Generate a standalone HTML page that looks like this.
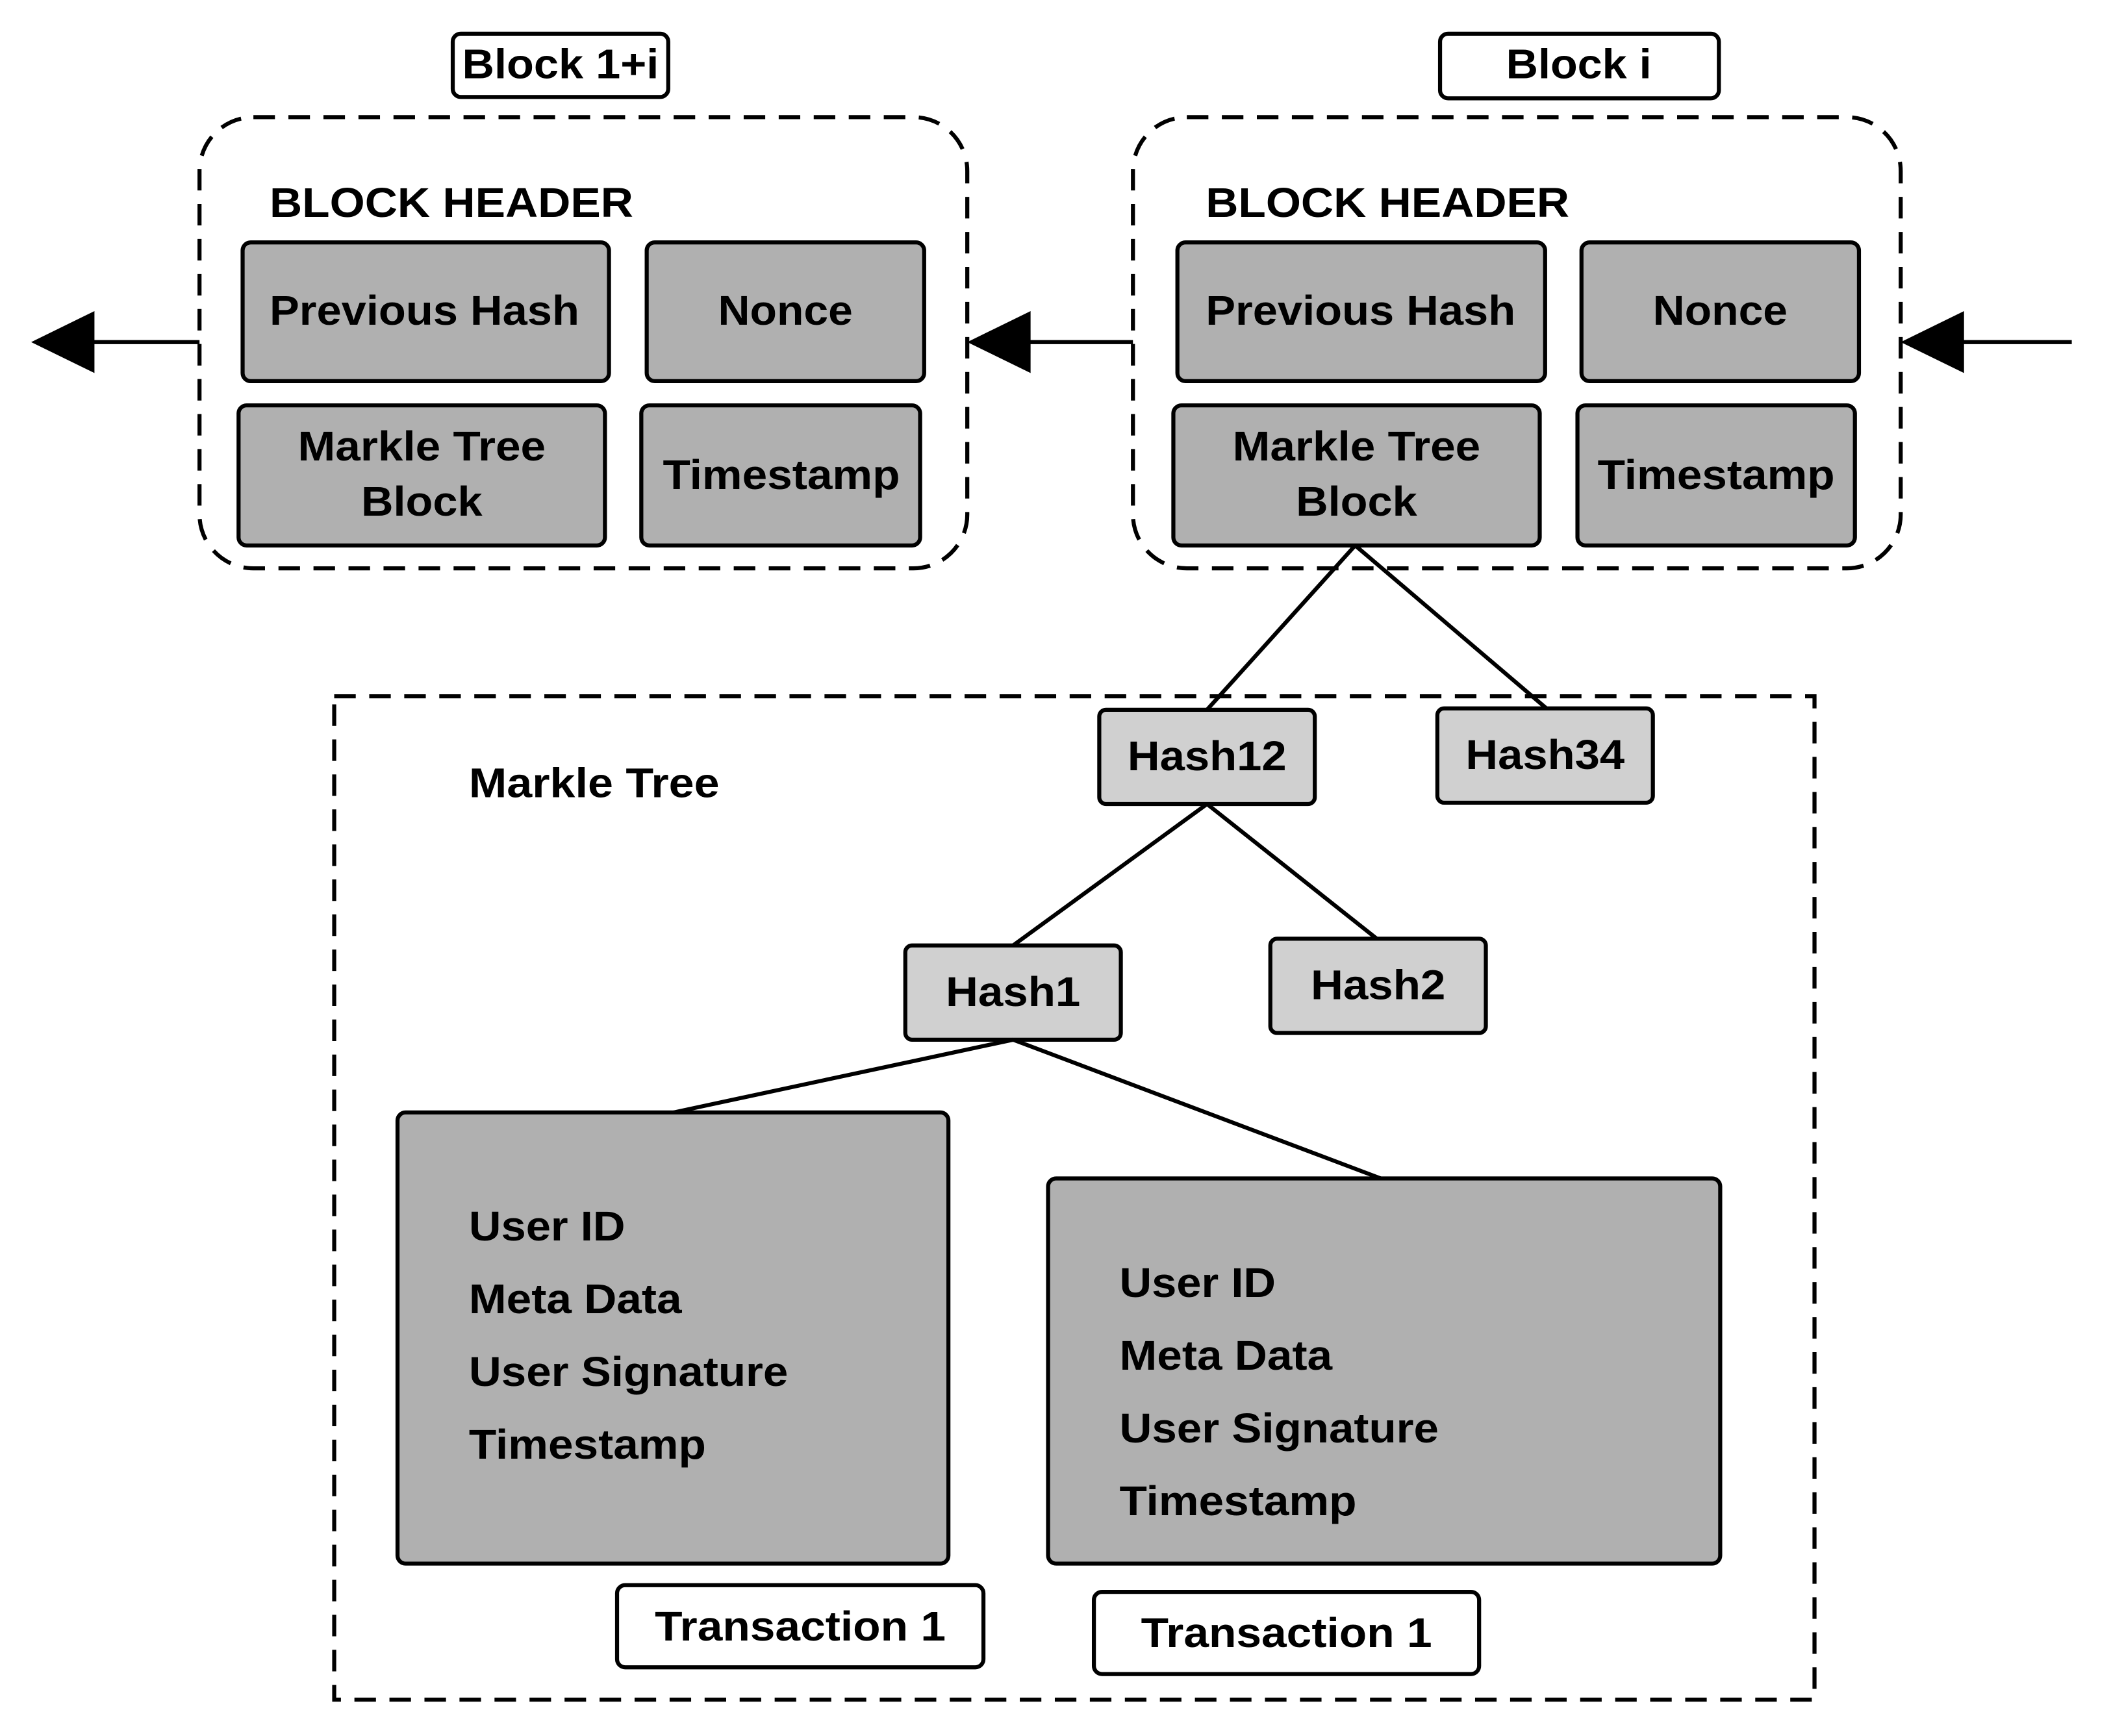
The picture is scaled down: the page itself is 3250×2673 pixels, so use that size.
<!DOCTYPE html>
<html><head><meta charset="utf-8"><style>html,body{margin:0;padding:0;background:#fff}svg{display:block}</style></head>
<body>
<svg width="3250" height="2673" viewBox="0 0 1567 1289" xmlns="http://www.w3.org/2000/svg" font-family="Liberation Sans, Arial, sans-serif" font-weight="bold">
<rect width="1567" height="1289" fill="#fff"/>
<g stroke="#000" stroke-width="3" fill="none" stroke-dasharray="16,10">
<rect x="148" y="87" width="570" height="335" rx="40"/>
<rect x="841" y="87" width="570" height="335" rx="40"/>
<rect x="248" y="517" width="1099" height="745"/>
</g>
<g fill="#fff" stroke="#000" stroke-width="3">
<rect x="336" y="25" width="160" height="47" rx="6"/>
<rect x="1069" y="25" width="207" height="48" rx="6"/>
<rect x="458" y="1177" width="272" height="61" rx="6"/>
<rect x="812" y="1182" width="286" height="61" rx="6"/>
</g>
<g fill="#b0b0b0" stroke="#000" stroke-width="3">
<rect x="180" y="180" width="272" height="103" rx="6"/>
<rect x="480" y="180" width="206" height="103" rx="6"/>
<rect x="177" y="301" width="272" height="104" rx="6"/>
<rect x="476" y="301" width="207" height="104" rx="6"/>
<rect x="874" y="180" width="273" height="103" rx="6"/>
<rect x="1174" y="180" width="206" height="103" rx="6"/>
<rect x="871" y="301" width="272" height="104" rx="6"/>
<rect x="1171" y="301" width="206" height="104" rx="6"/>
<rect x="295" y="826" width="409" height="335" rx="6"/>
<rect x="778" y="875" width="499" height="286" rx="6"/>
</g>
<g fill="#d0d0d0" stroke="#000" stroke-width="3">
<rect x="816" y="527" width="160" height="70" rx="5"/>
<rect x="1067" y="526" width="160" height="70" rx="5"/>
<rect x="672" y="702" width="160" height="70" rx="5"/>
<rect x="943" y="697" width="160" height="70" rx="5"/>
</g>
<g stroke="#000" stroke-width="3">
<line x1="1006" y1="405" x2="896" y2="527"/>
<line x1="1006" y1="405" x2="1148" y2="526"/>
<line x1="896" y1="597" x2="752" y2="702"/>
<line x1="896" y1="597" x2="1022" y2="697"/>
<line x1="752" y1="772" x2="500" y2="826"/>
<line x1="752" y1="772" x2="1025" y2="875"/>
<line x1="148" y1="254" x2="68" y2="254"/>
<line x1="841" y1="254" x2="762" y2="254"/>
<line x1="1538" y1="254" x2="1455" y2="254"/>
</g>
<g fill="#000">
<polygon points="23,254 70,231 70,277"/>
<polygon points="718,254 765,231 765,277"/>
<polygon points="1411,254 1458,231 1458,277"/>
</g>
<g fill="#000" font-size="31" text-anchor="middle">
<text x="416" y="58" textLength="146" lengthAdjust="spacingAndGlyphs">Block 1+i</text>
<text x="1172" y="58" textLength="108" lengthAdjust="spacingAndGlyphs">Block i</text>
<text x="315" y="241" textLength="230" lengthAdjust="spacingAndGlyphs">Previous Hash</text>
<text x="583" y="241" textLength="100" lengthAdjust="spacingAndGlyphs">Nonce</text>
<text x="313" y="342" textLength="184" lengthAdjust="spacingAndGlyphs">Markle Tree</text>
<text x="313" y="383" textLength="90" lengthAdjust="spacingAndGlyphs">Block</text>
<text x="580" y="363" textLength="176" lengthAdjust="spacingAndGlyphs">Timestamp</text>
<text x="1010" y="241" textLength="230" lengthAdjust="spacingAndGlyphs">Previous Hash</text>
<text x="1277" y="241" textLength="100" lengthAdjust="spacingAndGlyphs">Nonce</text>
<text x="1007" y="342" textLength="184" lengthAdjust="spacingAndGlyphs">Markle Tree</text>
<text x="1007" y="383" textLength="90" lengthAdjust="spacingAndGlyphs">Block</text>
<text x="1274" y="363" textLength="176" lengthAdjust="spacingAndGlyphs">Timestamp</text>
<text x="896" y="572" textLength="118" lengthAdjust="spacingAndGlyphs">Hash12</text>
<text x="1147" y="571" textLength="118" lengthAdjust="spacingAndGlyphs">Hash34</text>
<text x="752" y="747" textLength="100" lengthAdjust="spacingAndGlyphs">Hash1</text>
<text x="1023" y="742" textLength="100" lengthAdjust="spacingAndGlyphs">Hash2</text>
<text x="594" y="1218" textLength="216" lengthAdjust="spacingAndGlyphs">Transaction 1</text>
<text x="955" y="1223" textLength="216" lengthAdjust="spacingAndGlyphs">Transaction 1</text>
</g>
<g fill="#000" font-size="31">
<text x="200" y="161" textLength="270" lengthAdjust="spacingAndGlyphs">BLOCK HEADER</text>
<text x="895" y="161" textLength="270" lengthAdjust="spacingAndGlyphs">BLOCK HEADER</text>
<text x="348" y="592" textLength="186" lengthAdjust="spacingAndGlyphs">Markle Tree</text>
<text x="348" y="921" textLength="116" lengthAdjust="spacingAndGlyphs">User ID</text>
<text x="348" y="975" textLength="158" lengthAdjust="spacingAndGlyphs">Meta Data</text>
<text x="348" y="1029" textLength="237" lengthAdjust="spacingAndGlyphs">User Signature</text>
<text x="348" y="1083" textLength="176" lengthAdjust="spacingAndGlyphs">Timestamp</text>
<text x="831" y="963" textLength="116" lengthAdjust="spacingAndGlyphs">User ID</text>
<text x="831" y="1017" textLength="158" lengthAdjust="spacingAndGlyphs">Meta Data</text>
<text x="831" y="1071" textLength="237" lengthAdjust="spacingAndGlyphs">User Signature</text>
<text x="831" y="1125" textLength="176" lengthAdjust="spacingAndGlyphs">Timestamp</text>
</g>
</svg>
</body></html>
